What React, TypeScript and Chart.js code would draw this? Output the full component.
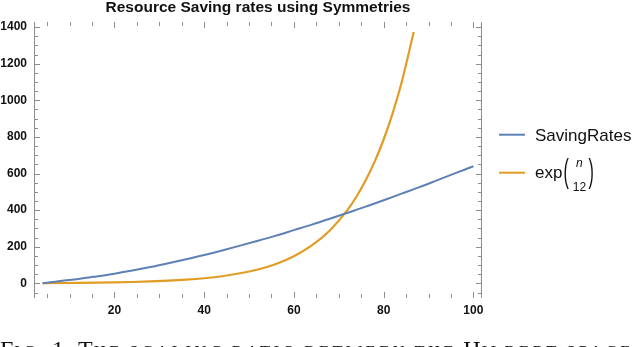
import { useEffect, useRef } from "react";
import { Chart, registerables } from "chart.js";

Chart.register(...registerables);

const titleText = "Resource Saving rates using Symmetries";
const captionText = "Fig. 1. The scaling ratio between the Hilbert space";
const legendNames = ["SavingRates", "exp"];
const fractionTop = "n";
const fractionBottom = "12";

const savingN = [4, 8, 12, 16, 20, 24, 28, 32, 36, 40, 44, 48, 52, 56, 60, 64, 68, 72, 76, 80, 84, 88, 92, 96, 100];
const savingRates = [0, 13, 24, 38, 53, 70, 89, 110, 132, 155, 180, 206, 233, 261, 291, 321, 353, 386, 419, 454, 490, 526, 564, 602, 640];

const expN = [4, 8, 12, 16, 20, 24, 28, 32, 36, 40, 44, 48, 52, 56, 60, 64, 68, 72, 74, 76, 78, 80, 82, 84, 86.7];
const expValues = [1.4, 1.9, 2.7, 3.8, 5.3, 7.4, 10.3, 14.4, 20.1, 28, 39, 55, 76, 106, 148, 207, 289, 403, 476, 563, 665, 786, 929, 1097, 1374];

const xTickValues = [20, 40, 60, 80, 100];
const yTickValues = [0, 200, 400, 600, 800, 1000, 1200, 1400];

const BLUE = "#5E81B5";
const ORANGE = "#E19C24";
const FRAME = "#8c8c8c";
const SANS = "'Liberation Sans', Arial, Helvetica, sans-serif";

const framePlugin = {
  id: "frameTicks",
  afterDraw(chart: any) {
    const { ctx, chartArea: a, scales } = chart;
    const xs = scales.x;
    const ys = scales.y;
    ctx.save();
    ctx.strokeStyle = FRAME;
    ctx.lineWidth = 1;
    ctx.beginPath();
    ctx.moveTo(Math.round(a.left) + 0.5, a.top);
    ctx.lineTo(Math.round(a.left) + 0.5, a.bottom);
    ctx.moveTo(Math.round(a.right) - 0.5, a.top);
    ctx.lineTo(Math.round(a.right) - 0.5, a.bottom);
    ctx.stroke();

    ctx.beginPath();
    for (let v = 5; v <= xs.max; v += 5) {
      if (v < xs.min) continue;
      const major = xTickValues.includes(v);
      const len = major ? 6 : 4;
      const px = Math.round(xs.getPixelForValue(v)) + 0.5;
      ctx.moveTo(px, a.bottom);
      ctx.lineTo(px, a.bottom - len);
      ctx.moveTo(px, a.top);
      ctx.lineTo(px, a.top + len);
    }
    for (let v = -50; v <= ys.max; v += 50) {
      if (v < ys.min) continue;
      const major = yTickValues.includes(v);
      const len = major ? 6 : 4;
      const py = Math.round(ys.getPixelForValue(v)) + 0.5;
      ctx.moveTo(a.left, py);
      ctx.lineTo(a.left + len, py);
      ctx.moveTo(a.right, py);
      ctx.lineTo(a.right - len, py);
    }
    ctx.stroke();

    // legend
    const lx0 = a.right + 17;
    const lx1 = a.right + 43;
    const tx = a.right + 53;
    const cy = (a.top + a.bottom) / 2;
    const y1 = cy - 25.3;
    const y2 = cy + 12.7;
    ctx.lineWidth = 2;
    ctx.strokeStyle = BLUE;
    ctx.beginPath();
    ctx.moveTo(lx0, y1);
    ctx.lineTo(lx1, y1);
    ctx.stroke();
    ctx.strokeStyle = ORANGE;
    ctx.beginPath();
    ctx.moveTo(lx0, y2);
    ctx.lineTo(lx1, y2);
    ctx.stroke();

    ctx.fillStyle = "#111";
    ctx.textAlign = "left";
    ctx.textBaseline = "alphabetic";
    ctx.font = `17px ${SANS}`;
    ctx.fillText(legendNames[0], tx, y1 + 6.3);
    const base2 = y2 + 5;
    ctx.fillText(legendNames[1], tx, base2);
    const wExp = ctx.measureText(legendNames[1]).width;
    const pl = tx + wExp + 1;
    ctx.save();
    ctx.font = `16px ${SANS}`;
    ctx.translate(pl, y2 + 9);
    ctx.scale(1, 2.1);
    ctx.fillText("(", 0, 0);
    ctx.restore();
    const fx = pl + 10;
    ctx.textAlign = "center";
    ctx.font = `italic 12px ${SANS}`;
    ctx.fillText(fractionTop, fx + 6, y2 - 5.5);
    ctx.font = `12px ${SANS}`;
    ctx.fillText(fractionBottom, fx + 6, y2 + 18);
    ctx.textAlign = "left";
    ctx.save();
    ctx.font = `16px ${SANS}`;
    ctx.translate(fx + 15, y2 + 9);
    ctx.scale(1, 2.1);
    ctx.fillText(")", 0, 0);
    ctx.restore();
    ctx.restore();
  },
};

function Caption({ text }: { text: string }) {
  const words = text.split(" ");
  return (
    <>
      {words.map((w, wi) => (
        <span key={wi}>
          {w.split("").map((ch, ci) => {
            const isLower = ch >= "a" && ch <= "z";
            return isLower ? (
              <span key={ci} style={{ fontSize: 16.5, letterSpacing: 3.6 }}>
                {ch.toUpperCase()}
              </span>
            ) : (
              <span key={ci} style={{ letterSpacing: 1 }}>{ch}</span>
            );
          })}
          {wi < words.length - 1 ? " " : ""}
        </span>
      ))}
    </>
  );
}

export default function App() {
  const ref = useRef<HTMLCanvasElement | null>(null);

  useEffect(() => {
    if (!ref.current) return;
    const chart = new Chart(ref.current, {
      type: "line",
      data: {
        datasets: [
          {
            label: legendNames[0],
            data: savingN.map((n, i) => ({ x: n, y: savingRates[i] })),
            borderColor: BLUE,
            backgroundColor: BLUE,
            borderWidth: 2,
            pointRadius: 0,
            cubicInterpolationMode: "monotone",
          },
          {
            label: "exp(n/12)",
            data: expN.map((n, i) => ({ x: n, y: expValues[i] })),
            borderColor: ORANGE,
            backgroundColor: ORANGE,
            borderWidth: 2.2,
            pointRadius: 0,
            cubicInterpolationMode: "monotone",
          },
        ],
      },
      plugins: [framePlugin],
      options: {
        responsive: false,
        animation: false,
        devicePixelRatio: 1,
        layout: { padding: { left: 0, right: 158, top: 0, bottom: 0 } },
        plugins: {
          legend: { display: false },
          tooltip: { enabled: false },
          title: {
            display: true,
            text: titleText,
            fullSize: false,
            color: "#111",
            font: { family: SANS, size: 15.5, weight: "bold", lineHeight: 1 },
            padding: { top: 0, bottom: 6.5 },
          },
        },
        scales: {
          x: {
            type: "linear",
            min: 2.08,
            max: 101.92,
            grid: { display: false, drawTicks: false },
            border: { display: false },
            afterBuildTicks: (s: any) => {
              s.ticks = xTickValues.map((v) => ({ value: v }));
            },
            afterFit: (s: any) => {
              s.height = 49;
            },
            ticks: {
              color: "#111",
              padding: 5,
              maxRotation: 0,
              callback: (v: any) => String(v),
              font: { family: SANS, size: 12, weight: "bold" },
            },
          },
          y: {
            type: "linear",
            min: -80,
            max: 1428,
            grid: { display: false, drawTicks: false },
            border: { display: false },
            afterBuildTicks: (s: any) => {
              s.ticks = yTickValues.map((v) => ({ value: v }));
            },
            afterFit: (s: any) => {
              s.width = 34;
            },
            ticks: {
              color: "#111",
              padding: 7,
              callback: (v: any) => String(v),
              font: { family: SANS, size: 12, weight: "bold" },
            },
          },
        },
      },
    } as any);
    return () => chart.destroy();
  }, []);

  return (
    <div
      style={{
        position: "fixed",
        left: 0,
        top: 0,
        width: 640,
        height: 347,
        overflow: "hidden",
        background: "#fff",
      }}
    >
      <canvas ref={ref} width={640} height={347} style={{ display: "block", width: 640, height: 347 }} />
      <div
        style={{
          position: "absolute",
          left: 0,
          top: 336.5,
          width: 700,
          whiteSpace: "nowrap",
          fontFamily: "'Liberation Serif', 'Times New Roman', serif",
          fontSize: 24,
          lineHeight: "24px",
          color: "#111",
        }}
      >
        <Caption text={captionText} />
      </div>
    </div>
  );
}
